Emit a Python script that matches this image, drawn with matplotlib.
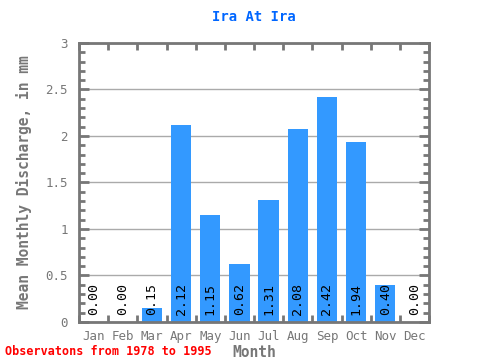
import matplotlib
matplotlib.use("Agg")
import matplotlib.pyplot as plt
import numpy as np

months = ["Jan", "Feb", "Mar", "Apr", "May", "Jun", "Jul", "Aug", "Sep", "Oct", "Nov", "Dec"]
discharge = [0.00, 0.00, 0.15, 2.12, 1.15, 0.62, 1.31, 2.08, 2.42, 1.94, 0.40, 0.00]
yticks = [0, 0.5, 1, 1.5, 2, 2.5, 3]
ylabels = ["0", "0.5", "1", "1.5", "2", "2.5", "3"]

plt.rcParams['font.family'] = ['DejaVu Sans Mono']
gray = '#777777'

fig = plt.figure(figsize=(4.8, 3.6), dpi=100)
ax = fig.add_axes([0.1646, 0.1056, 0.7292, 0.775])

x = np.arange(len(months))
ax.bar(x, discharge, width=0.7, color='#3399ff', zorder=2)
for xi, v in zip(x, discharge):
    ax.text(xi, 0.08, "%.2f" % v, rotation=90, ha='center', va='bottom',
            fontsize=9.5, color='black', zorder=3)

ax.set_xlim(-0.5, 11.5)
ax.set_ylim(0, 3)
ax.set_xticks(x)
ax.set_xticklabels(months)
ax.set_xticks(np.arange(-0.5, 12, 1), minor=True)
ax.set_yticks(yticks)
ax.set_yticklabels(ylabels)
ax.set_yticks(np.arange(0, 3.01, 0.1), minor=True)
ax.yaxis.grid(True, color='#aaaaaa', linewidth=1, zorder=1)

ax.tick_params(axis='x', which='major', length=0, labelsize=9, colors=gray, pad=6)
ax.tick_params(axis='x', which='minor', length=5, width=2, color=gray,
               direction='in', top=True, bottom=True)
ax.tick_params(axis='y', which='major', length=7, width=2, color=gray,
               direction='in', left=True, right=True, labelsize=9, labelcolor=gray, pad=8)
ax.tick_params(axis='y', which='minor', length=4, width=2, color=gray,
               direction='in', left=True, right=True)
for s in ax.spines.values():
    s.set_color(gray)
    s.set_linewidth(2)

ax.set_title("Ira At Ira", color='#0066ff', fontsize=10, fontweight='bold', pad=16)
ax.set_xlabel("Month", color=gray, fontsize=10.5, fontweight='bold', labelpad=1)
ax.set_ylabel("Mean Monthly Discharge, in mm", color=gray, fontsize=10.5,
              fontweight='bold', labelpad=10)
fig.text(0.01, 0.015, "Observatons from 1978 to 1995", color='#ff0000',
         fontsize=8.5, fontweight='bold')

fig.savefig("out.png", dpi=100)
